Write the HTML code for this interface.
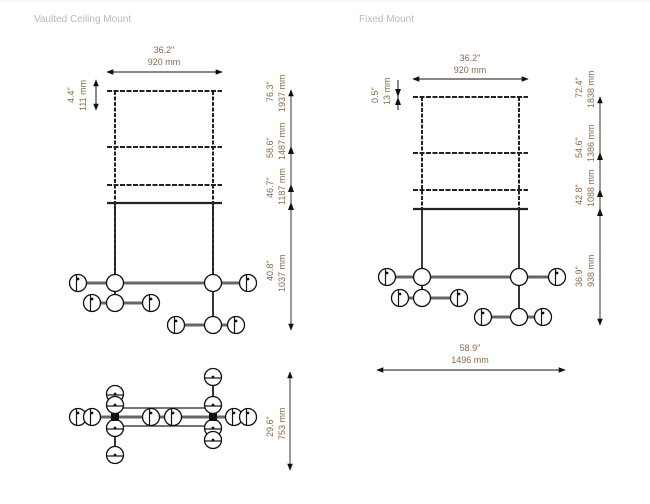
<!DOCTYPE html>
<html><head><meta charset="utf-8"><style>
html,body{margin:0;padding:0;background:#fff;}
svg{display:block;}
text{font-family:"Liberation Sans",sans-serif;}
.t{font-size:10px;fill:#b8b8b8;}
.d{font-size:9px;fill:#8a6a4a;}
</style></head><body>
<svg width="650" height="504" viewBox="0 0 650 504" xmlns="http://www.w3.org/2000/svg">
<defs>
<marker id="a" viewBox="0 0 10 10" refX="9" refY="5" markerWidth="7" markerHeight="7" orient="auto-start-reverse"><path d="M0,1 L10,5 L0,9 z" fill="#111"/></marker>
<g id="bv"><circle r="8.5" fill="#fff" stroke="#111" stroke-width="1.3"/><line x1="-1.5" y1="-8" x2="-1.5" y2="8" stroke="#111" stroke-width="1.2"/><circle cx="0" cy="-4" r="1.4" fill="#111"/></g>
<g id="bh"><circle r="8.5" fill="#fff" stroke="#111" stroke-width="1.3"/><line x1="-8" y1="1" x2="8" y2="1" stroke="#111" stroke-width="1.2"/><circle cx="0" cy="0" r="1.4" fill="#111"/></g>
<g id="hub"><circle r="8.5" fill="#fff" stroke="#111" stroke-width="1.3"/></g>
</defs>
<line x1="0" y1="1" x2="650" y2="1" stroke="#f2f2f2"/>
<text x="34" y="22" class="t">Vaulted Ceiling Mount</text>
<text x="359" y="22" class="t">Fixed Mount</text>

<!-- LEFT elevation -->
<text x="164" y="53" class="d" text-anchor="middle">36.2"</text>
<text x="164" y="65" class="d" text-anchor="middle">920 mm</text>
<line x1="107" y1="72" x2="222" y2="72" stroke="#111" stroke-width="1" marker-start="url(#a)" marker-end="url(#a)"/>
<line x1="96" y1="80" x2="96" y2="110" stroke="#111" stroke-width="1" marker-start="url(#a)" marker-end="url(#a)"/>
<text transform="translate(74,103) rotate(-90)" class="d">4.4"</text>
<text transform="translate(86,111) rotate(-90)" class="d">111 mm</text>
<g stroke="#222">
<line x1="115" y1="91" x2="115" y2="275" stroke-width="2" stroke-dasharray="4,1.5"/>
<line x1="213" y1="91" x2="213" y2="275" stroke-width="2" stroke-dasharray="4,1.5"/>
<line x1="115" y1="205" x2="115" y2="275" stroke-width="1.8"/>
<line x1="213" y1="205" x2="213" y2="275" stroke-width="1.8"/>
<line x1="107" y1="91" x2="222" y2="91" stroke-width="2" stroke-dasharray="5,1.5"/>
<line x1="107" y1="147" x2="222" y2="147" stroke-width="2" stroke-dasharray="5,1.5"/>
<line x1="107" y1="185" x2="222" y2="185" stroke-width="2" stroke-dasharray="5,1.5"/>
<line x1="107" y1="203" x2="222" y2="203" stroke-width="2.2"/>
</g>
<line x1="291" y1="330" x2="291" y2="90" stroke="#333" stroke-width="1" marker-end="url(#a)" marker-start="url(#a)"/>
<path d="M288,154 L291,146 L294,154z M288,192 L291,184 L294,192z M288,210 L291,202 L294,210z" fill="#111"/>
<text transform="translate(273,102) rotate(-90)" class="d">76.3"</text>
<text transform="translate(285,112) rotate(-90)" class="d">1937 mm</text>
<text transform="translate(273,158) rotate(-90)" class="d">58.6"</text>
<text transform="translate(285,160) rotate(-90)" class="d">1487 mm</text>
<text transform="translate(273,198) rotate(-90)" class="d">46.7"</text>
<text transform="translate(285,205) rotate(-90)" class="d">1187 mm</text>
<text transform="translate(273,281) rotate(-90)" class="d">40.8"</text>
<text transform="translate(285,292) rotate(-90)" class="d">1037 mm</text>
<g stroke="#666" stroke-width="3">
<line x1="78" y1="283" x2="248" y2="283"/>
<line x1="92" y1="303" x2="151" y2="303"/>
<line x1="176" y1="325" x2="236" y2="325"/>
</g>
<line x1="115" y1="283" x2="115" y2="303" stroke="#333" stroke-width="2"/>
<line x1="213" y1="283" x2="213" y2="325" stroke="#333" stroke-width="2"/>
<use href="#bv" x="78" y="283"/><use href="#hub" x="115" y="283"/><use href="#hub" x="213" y="283"/><use href="#bv" x="248" y="283"/>
<use href="#bv" x="92" y="303"/><use href="#hub" x="115" y="303"/><use href="#bv" x="151" y="303"/>
<use href="#bv" x="176" y="325"/><use href="#hub" x="213" y="325"/><use href="#bv" x="236" y="325"/>

<!-- LEFT top view -->
<line x1="290" y1="372" x2="290" y2="470" stroke="#333" stroke-width="1" marker-start="url(#a)" marker-end="url(#a)"/>
<text transform="translate(273,437) rotate(-90)" class="d">29.6"</text>
<text transform="translate(285,440) rotate(-90)" class="d">753 mm</text>
<line x1="115" y1="408" x2="213" y2="408" stroke="#777" stroke-width="2"/>
<line x1="115" y1="426" x2="213" y2="426" stroke="#222" stroke-width="1.3"/>
<line x1="78" y1="417" x2="248" y2="417" stroke="#666" stroke-width="3"/>
<line x1="115" y1="394" x2="115" y2="455" stroke="#333" stroke-width="2"/>
<line x1="213" y1="377" x2="213" y2="440" stroke="#333" stroke-width="2"/>
<use href="#bv" x="78" y="417"/><use href="#bv" x="92" y="417"/>
<use href="#bv" x="151" y="417"/><use href="#bv" x="173" y="417"/>
<use href="#bv" x="234" y="417"/><use href="#bv" x="248" y="417"/>
<use href="#bh" x="115" y="394"/><use href="#bh" x="115" y="405"/><use href="#bh" x="115" y="428"/><use href="#bh" x="115" y="455"/>
<use href="#bh" x="213" y="377"/><use href="#bh" x="213" y="405"/><use href="#bh" x="213" y="428"/><use href="#bh" x="213" y="440"/>
<rect x="111" y="413" width="8" height="8" fill="#111"/><rect x="209" y="413" width="8" height="8" fill="#111"/>

<!-- RIGHT elevation -->
<text x="470" y="61" class="d" text-anchor="middle">36.2"</text>
<text x="470" y="73" class="d" text-anchor="middle">920 mm</text>
<line x1="413" y1="79" x2="528" y2="79" stroke="#111" stroke-width="1" marker-start="url(#a)" marker-end="url(#a)"/>
<line x1="398" y1="80" x2="398" y2="110" stroke="#111" stroke-width="1"/>
<path d="M395,89 L398,97 L401,89z M395,105 L398,97 L401,105z" fill="#111"/>
<text transform="translate(378,103) rotate(-90)" class="d">0.5"</text>
<text transform="translate(390,105) rotate(-90)" class="d">13 mm</text>
<g stroke="#222">
<line x1="422" y1="97" x2="422" y2="209" stroke-width="2" stroke-dasharray="4,1.5"/>
<line x1="519" y1="97" x2="519" y2="209" stroke-width="2" stroke-dasharray="4,1.5"/>
<line x1="422" y1="209" x2="422" y2="270" stroke-width="1.8"/>
<line x1="519" y1="209" x2="519" y2="270" stroke-width="1.8"/>
<line x1="413" y1="97" x2="528" y2="97" stroke-width="2" stroke-dasharray="5,1.5"/>
<line x1="413" y1="153" x2="528" y2="153" stroke-width="2" stroke-dasharray="5,1.5"/>
<line x1="413" y1="190" x2="528" y2="190" stroke-width="2" stroke-dasharray="5,1.5"/>
<line x1="413" y1="209" x2="528" y2="209" stroke-width="2.2"/>
</g>
<line x1="600" y1="325" x2="600" y2="97" stroke="#333" stroke-width="1" marker-start="url(#a)" marker-end="url(#a)"/>
<path d="M597,160 L600,152 L603,160z M597,197 L600,189 L603,197z M597,216 L600,208 L603,216z" fill="#111"/>
<text transform="translate(582,98) rotate(-90)" class="d">72.4"</text>
<text transform="translate(594,108) rotate(-90)" class="d">1838 mm</text>
<text transform="translate(582,158) rotate(-90)" class="d">54.6"</text>
<text transform="translate(594,162) rotate(-90)" class="d">1386 mm</text>
<text transform="translate(582,205) rotate(-90)" class="d">42.8"</text>
<text transform="translate(594,207) rotate(-90)" class="d">1088 mm</text>
<text transform="translate(582,287) rotate(-90)" class="d">36.9"</text>
<text transform="translate(594,287) rotate(-90)" class="d">938 mm</text>
<g stroke="#666" stroke-width="3">
<line x1="387" y1="277" x2="557" y2="277"/>
<line x1="400" y1="298" x2="459" y2="298"/>
<line x1="483" y1="317" x2="543" y2="317"/>
</g>
<line x1="422" y1="277" x2="422" y2="298" stroke="#333" stroke-width="2"/>
<line x1="519" y1="277" x2="519" y2="317" stroke="#333" stroke-width="2"/>
<use href="#bv" x="387" y="277"/><use href="#hub" x="422" y="277"/><use href="#hub" x="519" y="277"/><use href="#bv" x="557" y="277"/>
<use href="#bv" x="400" y="298"/><use href="#hub" x="422" y="298"/><use href="#bv" x="459" y="298"/>
<use href="#bv" x="483" y="317"/><use href="#hub" x="519" y="317"/><use href="#bv" x="543" y="317"/>
<text x="470" y="351" class="d" text-anchor="middle">58.9"</text>
<text x="470" y="363" class="d" text-anchor="middle">1496 mm</text>
<line x1="377" y1="370" x2="565" y2="370" stroke="#111" stroke-width="1" marker-start="url(#a)" marker-end="url(#a)"/>
</svg>
</body></html>
